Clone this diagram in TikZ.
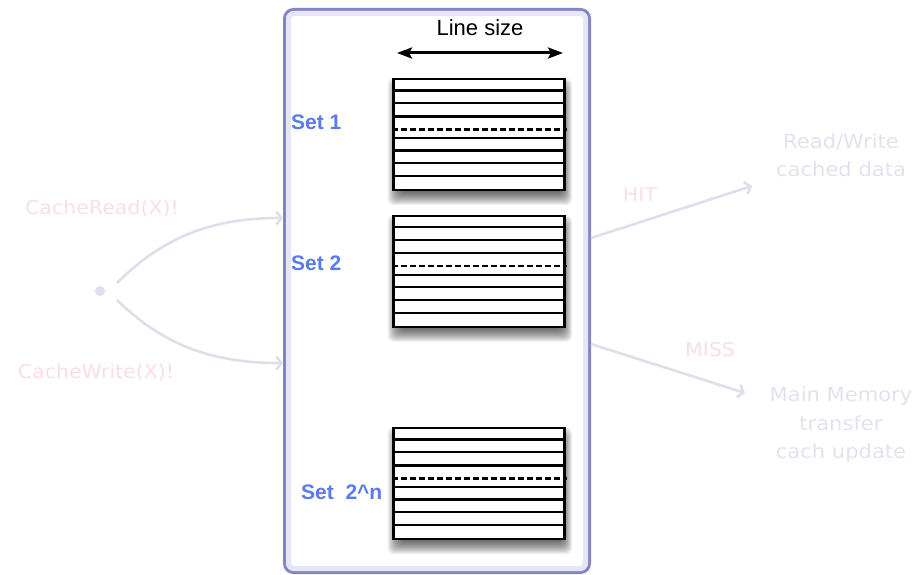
\documentclass[tikz,border=0pt]{standalone}
\usepackage{fontspec}
\setmainfont{Liberation Sans}
\newfontfamily\handfont[FakeStretch=1.08]{DejaVu Sans}
\usetikzlibrary{arrows.meta}

\definecolor{frame}{HTML}{8484C8}
\definecolor{band}{HTML}{E6E6F8}
\definecolor{setblue}{HTML}{5A7AF2}
\definecolor{pinkish}{HTML}{FADDE8}
\definecolor{lav}{HTML}{E2E2EF}
\definecolor{lavline}{HTML}{DEDEEC}

% one cache set: soft drop shadow, outlined block of lines, dashed divider
\newcommand\cacheset[2]{%
  \foreach \e in {-6,...,8}
    \fill[black,opacity=0.055,rounded corners=6pt]
      ({395.5-\e},{#2-48.35-\e}) rectangle ({566-\e/4+\e},{#2+62.35+\e});
  \node[setbox] (#1) at (479,#2) {};
  \foreach \d in {12.4,25,38.4,60,72.4,85,98}
    \draw[rowline] ([yshift=-\d pt]#1.north west) -- ([yshift=-\d pt]#1.north east);
  \draw[rowline,dash pattern=on 6pt off 3pt]
    ([yshift=-51.4pt]#1.north west) -- ([yshift=-51.4pt,xshift=1.5pt]#1.north east);
}

\begin{document}
\begin{tikzpicture}[x=1pt,y=-1pt,
  setbox/.style={draw=black,line width=2.3pt,fill=white,inner sep=0pt,
    minimum width=171pt,minimum height=111pt},
  rowline/.style={line width=2.2pt,black},
  setlabel/.style={font=\bfseries\fontsize{21}{25}\selectfont,text=setblue,inner sep=0pt,anchor=west},
  faded/.style={draw=lavline,line width=2.6pt,-{Straight Barb[length=5pt,width=13pt,line width=2.6pt]}},
  pinktext/.style={font=\handfont\fontsize{19}{28.5}\selectfont,text=pinkish,inner sep=0pt},
  lavtext/.style={font=\handfont\fontsize{19.5}{28.5}\selectfont,text=lav,inner sep=0pt,align=center},
]
\useasboundingbox (0,0) rectangle (918,575);

% cache frame
\node[draw=frame,line width=3pt,rounded corners=9pt,fill=white,inner sep=0pt,
      minimum width=305pt,minimum height=563pt] (cache) at (437,291) {};
\draw[band,line width=5pt,rounded corners=6pt] (288.5,13.5) rectangle (585.5,568.5);

% line size marker
\node[font=\fontsize{22}{26}\selectfont,inner sep=0pt] (ls) at (480,28) {Line size};
\coordinate (lsl) at (397,53);
\coordinate (lsr) at (563,53);
\draw[line width=3pt,{Stealth[length=15pt,width=11pt,inset=3pt]}-{Stealth[length=15pt,width=11pt,inset=3pt]}] (lsl) -- (lsr);

% sets
\cacheset{set1}{134.8}
\cacheset{set2}{271.5}
\cacheset{setn}{483.8}
\node[setlabel] (l1) at (291,122) {Set 1};
\node[setlabel] (l2) at (291,263) {Set 2};
\node[setlabel] (ln) at (301,492) {Set\ \ 2\textasciicircum n};

% requests entering the cache
\node[circle,fill=lavline,minimum size=10pt,inner sep=0pt] (src) at (100,291) {};
\draw[faded] ([xshift=17pt,yshift=8pt]src.center) .. controls (165,235) and (215,218) .. ([yshift=73pt]cache.west);
\draw[faded] ([xshift=17pt,yshift=-9pt]src.center) .. controls (165,347) and (215,363) .. ([yshift=-72pt]cache.west);
\node[pinktext] (rd) at (102,209) {CacheRead(X)!};
\node[pinktext] (wr) at (96,373) {CacheWrite(X)!};

% outcomes
\coordinate (hitend) at (752,186);
\coordinate (missend) at (745,393);
\draw[faded] ([yshift=53pt]cache.east) -- (hitend);
\draw[faded] ([yshift=-53pt]cache.east) -- (missend);
\node[pinktext] (hit) at (640,195) {HIT};
\node[pinktext] (miss) at (710,350) {MISS};
\node[lavtext] (rw) at (841,155) {Read/Write\\cached data};
\node[lavtext] (mm) at (841,425) {Main Memory\\transfer\\cach update};
\end{tikzpicture}
\end{document}
